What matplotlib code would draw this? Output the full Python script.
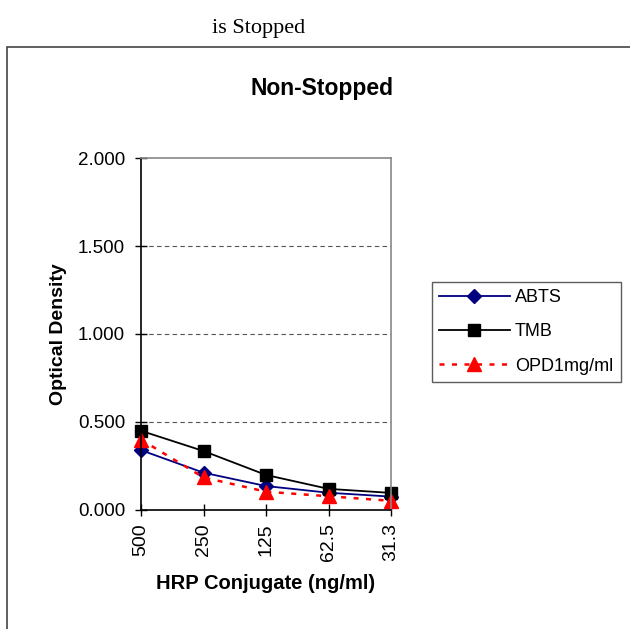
import matplotlib.pyplot as plt
from matplotlib.patches import Rectangle

plt.rcParams['font.family'] = ['Liberation Sans', 'DejaVu Sans']

# HRP conjugate dilutions (ng/ml), plotted as categories
conc_labels = ['500', '250', '125', '62.5', '31.3']
abts = [0.340, 0.212, 0.136, 0.098, 0.076]
tmb = [0.450, 0.335, 0.199, 0.120, 0.097]
opd = [0.400, 0.185, 0.104, 0.078, 0.052]

fig = plt.figure(figsize=(6.3, 6.29), dpi=100)
ax = fig.add_axes([0.2238, 0.1892, 0.397, 0.5596])

x = range(len(conc_labels))
ax.plot(x, abts, color='#000080', marker='D', markersize=7, linewidth=1.3, label='ABTS')
ax.plot(x, tmb, color='black', marker='s', markersize=9, linewidth=1.3, label='TMB')
ax.plot(x, opd, color='red', marker='^', markersize=10, linewidth=1.8,
        linestyle=(0, (2, 3)), label='OPD1mg/ml')

ax.set_xlim(0, len(conc_labels) - 1)
ax.set_ylim(0, 2.0)
ax.set_yticks([0, 0.5, 1.0, 1.5, 2.0])
ax.set_yticklabels(['0.000', '0.500', '1.000', '1.500', '2.000'], fontsize=13.5)
ax.set_xticks(list(x))
ax.set_xticklabels(conc_labels, rotation=90, fontsize=14)
ax.tick_params(direction='inout', length=9, width=1, color='black')
ax.tick_params(axis='y', pad=7)
ax.tick_params(axis='x', pad=5)

for yv in [0.5, 1.0, 1.5]:
    ax.axhline(yv, color='#555555', linestyle=(0, (4, 3)), linewidth=0.8, zorder=0)

ax.spines['left'].set_color('black')
ax.spines['bottom'].set_color('black')
ax.spines['top'].set_color('#888888')
ax.spines['right'].set_color('#888888')
for s in ax.spines.values():
    s.set_linewidth(1.2)
for ln in ax.lines:
    ln.set_clip_on(False)

ax.set_xlabel('HRP Conjugate (ng/ml)', fontsize=14.5, fontweight='bold', labelpad=9)
ax.set_ylabel('Optical Density', fontsize=14, fontweight='bold', labelpad=8)

fig.text(0.511, 1 - 88 / 629, 'Non-Stopped', ha='center', va='center',
         fontsize=16.5, fontweight='bold')
fig.text(0.41, 1 - 28 / 629, 'is Stopped', ha='center', va='center',
         fontsize=16, family=['Liberation Serif', 'DejaVu Serif'])

leg = fig.legend(loc='upper left', bbox_to_anchor=(432 / 630, 1 - 282 / 629),
                 fontsize=13, handlelength=3.9, frameon=True, fancybox=False,
                 edgecolor='#333333', borderpad=0.4, labelspacing=0.95,
                 handletextpad=0.3, borderaxespad=0)
leg.get_frame().set_linewidth(1)

# outer chart border (cropped at right and bottom)
fig.patches.append(Rectangle((7 / 630, -0.05), 1.0, 1 - 47 / 629 + 0.05,
                             transform=fig.transFigure, fill=False,
                             edgecolor='#444444', linewidth=1.2))

fig.savefig('out.png', dpi=100)
